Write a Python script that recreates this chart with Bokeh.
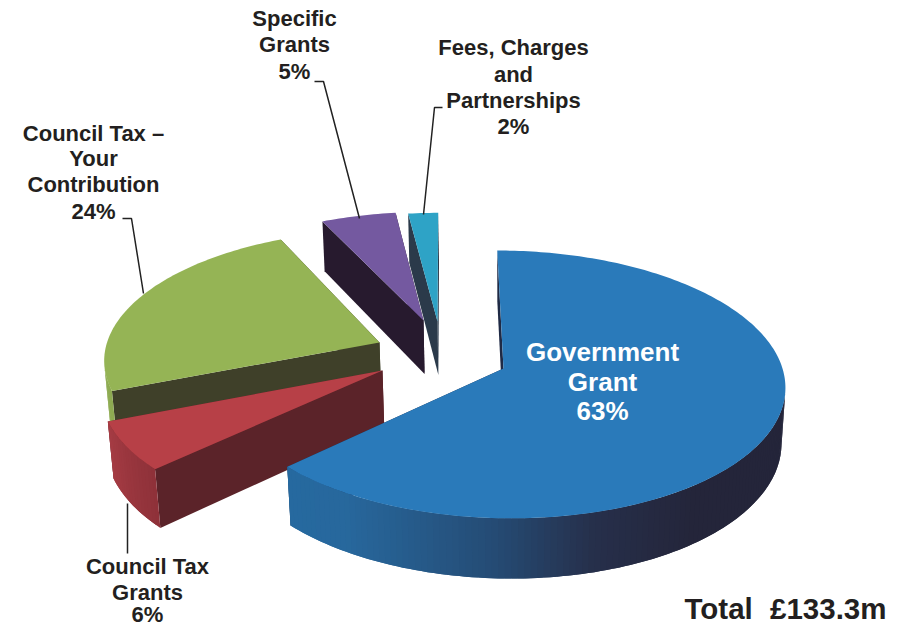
import math
from bokeh.plotting import figure
from bokeh.models import Range1d, ColumnDataSource
from bokeh.embed import file_html
from bokeh.resources import INLINE
from bokeh.core.properties import value

# ---- data ----
names = ["Government Grant", "Council Tax Grants", "Council Tax – Your Contribution", "Specific Grants", "Fees, Charges and Partnerships"]
shares = [63, 6, 24, 5, 2]
total_word = "Total"
total_amount = "£133.3m"

# ---- styling / layout ----
top_colors = ["#2a7aba", "#b74047", "#95b455", "#7459a0", "#2ea3c6"]
face_colors = ["#1f2a45", "#5b2329", "#3f4029", "#271a2e", "#2b3a4a"]
rim_stops = [
    [(0.0, "#26699f"), (0.12, "#27689d"), (0.42, "#254b74"), (0.62, "#262f4a"), (0.82, "#24253a"), (1.0, "#24253a")],
    [(0.0, "#a63c44"), (1.0, "#8e3139")],
    [(0.0, "#8eab52"), (1.0, "#8eab52")],
    [(0.0, "#271a2e"), (1.0, "#271a2e")],
    [(0.0, "#2b3a4a"), (1.0, "#2b3a4a")],
]
apex_px = [(503, 368), (382, 370), (379, 342), (423, 320), (437, 321)]
CX, CY, A, B, S, K, H, M = 503, 368, 279, 132, -7, 0.119, 56, 0.014
TEXT = "#231f20"
FONT = value("Liberation Sans")


def project(X, Y, Z=0.0):
    w = 1 + K * Y + M * Z
    return CX + (A * X + S * Y) / w, CY + (-B * Y + H * Z) / w


def unproject(sx, sy):
    d = sy - CY
    Y = -d / (B + K * d)
    X = ((sx - CX) * (1 + K * Y) - S * Y) / A
    return X, Y


def hex2rgb(c):
    return tuple(int(c[i:i + 2], 16) for i in (1, 3, 5))


def lerp_color(stops, t):
    for (t0, c0), (t1, c1) in zip(stops, stops[1:]):
        if t <= t1:
            f = 0 if t1 == t0 else (t - t0) / (t1 - t0)
            a, b = hex2rgb(c0), hex2rgb(c1)
            return "#%02x%02x%02x" % tuple(round(a[i] + (b[i] - a[i]) * f) for i in range(3))
    return stops[-1][1]


def area(pts):
    return sum(pts[i][0] * pts[(i + 1) % len(pts)][1] - pts[(i + 1) % len(pts)][0] * pts[i][1] for i in range(len(pts))) / 2


p = figure(width=906, height=627, x_range=Range1d(0, 906), y_range=Range1d(627, 0),
           toolbar_location=None, output_backend="svg", min_border=0, outline_line_color=None)
p.axis.visible = False
p.grid.visible = False
p.background_fill_color = "white"
p.border_fill_color = "white"

xs, ys, fc = [], [], []


def add(pts, color):
    xs.append([q[0] for q in pts])
    ys.append([q[1] for q in pts])
    fc.append(color)


starts = []
acc = 0
for s in shares:
    starts.append(acc)
    acc += s
total = sum(shares)

# painter's order: far exploded pieces first, the large slice last
for i in [4, 3, 2, 1, 0]:
    t0 = starts[i] / total * 2 * math.pi
    t1 = (starts[i] + shares[i]) / total * 2 * math.pi
    ox, oy = unproject(*apex_px[i])

    def pt(th, z=0.0):
        return project(ox + math.sin(th), oy + math.cos(th), z)

    apex_t, apex_b = project(ox, oy, 0), project(ox, oy, 1)
    # cut faces: end edge first, start edge after
    for th in (t1, t0):
        q = [apex_t, pt(th), pt(th, 1), apex_b]
        add(q, face_colors[i])
    # rim, only the segments that face the viewer; each strip runs on under the
    # next one so no seams show between them
    n = max(2, int(math.degrees(t1 - t0) / 1.2))
    for j in range(n):
        a0 = t0 + (t1 - t0) * j / n
        a1 = t0 + (t1 - t0) * (j + 1) / n
        q = [pt(a0), pt(a1), pt(a1, 1), pt(a0, 1)]
        if area(q) < 0:
            t = (t1 - 0.5 * (a0 + a1)) / (t1 - t0)
            if i == 0:
                t = (pt(0.5 * (a0 + a1))[0] - 283) / (787 - 283)
            a2 = min(t1, a1 + (t1 - t0) / n)
            add([pt(a0), pt(a1), pt(a2), pt(a2, 1), pt(a1, 1), pt(a0, 1)],
                lerp_color(rim_stops[i], max(0, min(1, t))))
    # top surface
    m = max(4, int(math.degrees(t1 - t0)))
    add([apex_t] + [pt(t0 + (t1 - t0) * j / m) for j in range(m + 1)], top_colors[i])

src = ColumnDataSource(dict(xs=xs, ys=ys, fc=fc))
p.patches("xs", "ys", source=src, fill_color="fc", line_color=None)

# leader lines
leaders = [
    [(314, 81), (323, 81), (359, 218)],
    [(442, 107), (434, 107), (423, 214)],
    [(122, 218), (131, 218), (143, 293)],
    [(127, 503), (127, 553)],
]
for l in leaders:
    p.line([q[0] for q in l], [q[1] for q in l], line_color="#222222", line_width=1.5)

# labels
labels = [
    (["Specific", "Grants", f"{shares[3]}%"], 294, [18, 44, 71], "22px", TEXT),
    (["Fees, Charges", "and", "Partnerships", f"{shares[4]}%"], 513, [47, 74, 100, 126], "22px", TEXT),
    (["Council Tax –", "Your", "Contribution", f"{shares[2]}%"], 93, [133, 158, 184, 211], "22px", TEXT),
    (["Council Tax", "Grants", f"{shares[1]}%"], 147, [566, 592, 614], "22px", TEXT),
    (["Government", "Grant", f"{shares[0]}%"], 602, [351, 381, 410], "26px", "#ffffff"),
]
for lines, x, yy, size, col in labels:
    p.text([x] * len(lines), yy, text=lines, text_font=FONT, text_font_style="bold",
           text_font_size=size, text_color=col, text_align="center", text_baseline="middle")

p.text([684], [608], text=[total_word], text_font=FONT, text_font_style="bold",
       text_font_size="29.5px", text_color=TEXT, text_align="left", text_baseline="middle")
p.text([886], [608], text=[total_amount], text_font=FONT, text_font_style="bold",
       text_font_size="29.5px", text_color=TEXT, text_align="right", text_baseline="middle")

open("out.html", "w").write(file_html(p, INLINE))
